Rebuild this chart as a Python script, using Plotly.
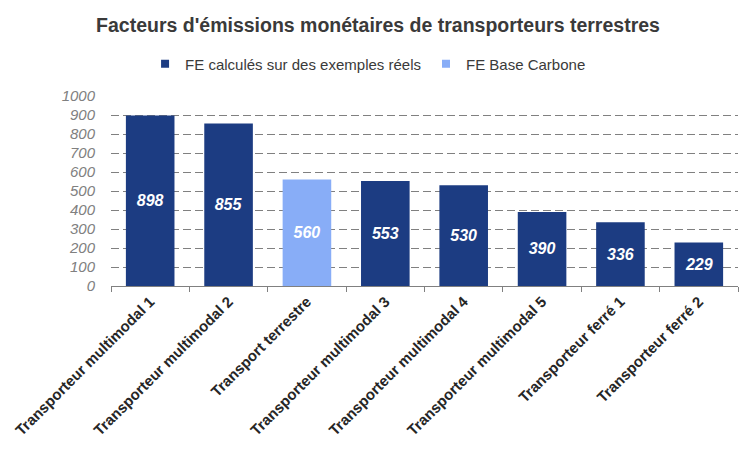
import plotly.graph_objects as go

categories = ["Transporteur multimodal 1", "Transporteur multimodal 2", "Transport terrestre",
              "Transporteur multimodal 3", "Transporteur multimodal 4", "Transporteur multimodal 5",
              "Transporteur ferré 1", "Transporteur ferré 2"]
values = [898, 855, 560, 553, 530, 390, 336, 229]
source = ["reel", "reel", "base", "reel", "reel", "reel", "reel", "reel"]
series_names = {"reel": "FE calculés sur des exemples réels", "base": "FE Base Carbone"}
series_colors = {"reel": "#1C3C82", "base": "#88ADF7"}
y_ticks = [0, 100, 200, 300, 400, 500, 600, 700, 800, 900, 1000]

fig = go.Figure()
for key in ["reel", "base"]:
    ys = [v if s == key else None for v, s in zip(values, source)]
    txt = [str(v) if s == key else "" for v, s in zip(values, source)]
    fig.add_trace(go.Bar(
        x=categories, y=ys, name=series_names[key], showlegend=False,
        marker=dict(color=series_colors[key], line=dict(width=0)),
        text=txt, textposition="inside", insidetextanchor="middle",
        textfont=dict(family="Liberation Sans", size=16, color="white", weight="bold", style="italic"),
        textangle=0, width=0.62,
    ))
    # legend entry (square swatch)
    fig.add_trace(go.Scatter(
        x=[None], y=[None], mode="markers", name=series_names[key],
        marker=dict(symbol="square", size=8, color=series_colors[key]),
        showlegend=True,
    ))

fig.update_layout(
    width=756, height=456,
    barmode="overlay",
    plot_bgcolor="white", paper_bgcolor="white",
    margin=dict(l=103, r=26, t=88, b=178, autoexpand=False),
    title=dict(text="Facteurs d'émissions monétaires de transporteurs terrestres",
               x=370/756, xanchor="center", y=1-17/456, yanchor="middle",
               font=dict(family="Liberation Sans", size=19.5, color="#3a3a3a", weight="bold")),
    legend=dict(orientation="h", x=0.41, xanchor="center", y=1.168, yanchor="middle",
                font=dict(family="Liberation Sans", size=15, color="#3a3a3a"),
                itemwidth=30, traceorder="normal"),
    font=dict(family="Liberation Sans"),
)
fig.update_xaxes(
    showline=True, linecolor="#808080", linewidth=1,
    ticks="outside", ticklen=5, tickcolor="#808080", tickson="boundaries",
    tickangle=-45, showgrid=False, automargin=False,
    tickfont=dict(family="Liberation Sans", size=15, color="#262626", weight="bold"),
)
fig.update_yaxes(
    range=[0, 1000], tickvals=y_ticks, showline=False,
    showgrid=True, gridcolor="#808080", griddash="8px,4px", gridwidth=1,
    zeroline=False, automargin=False,
    tickfont=dict(family="Liberation Sans", size=15, color="#808080", style="italic"),
    ticks="", ticklabelstandoff=15,
)
fig.write_html("out.html")
